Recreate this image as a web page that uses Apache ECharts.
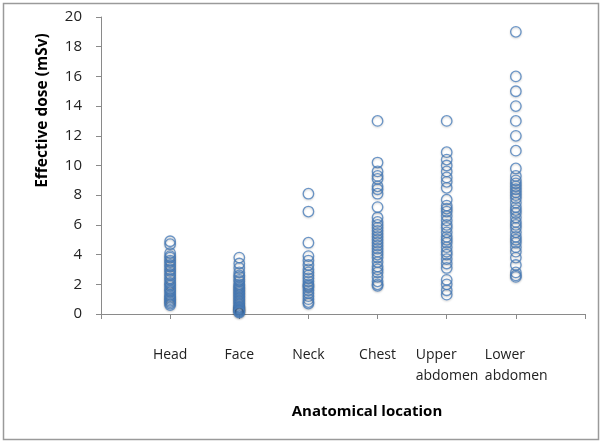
<!DOCTYPE html>
<html>
<head>
<meta charset="utf-8">
<script src="https://cdn.jsdelivr.net/npm/echarts@6/dist/echarts.min.js"></script>
<style>html,body{margin:0;padding:0;background:#fff}#c{width:600px;height:441px}</style>
</head>
<body>
<div id="c"></div>
<script>
var categories = ['Head', 'Face', 'Neck', 'Chest', 'Upper\nabdomen', 'Lower\nabdomen'];
var yTicks = [0, 2, 4, 6, 8, 10, 12, 14, 16, 18, 20];

var headDose = [4.9, 4.7, 4.1, 3.9, 3.8, 3.6, 3.5, 3.3, 3.2, 3.0, 2.9, 2.7, 2.6, 2.4, 2.3, 2.1, 2.0, 1.9, 1.7, 1.6, 1.5, 1.3, 1.2, 1.1, 1.0, 0.9, 0.8, 0.7, 0.6];
var faceDose = [3.8, 3.4, 3.1, 2.8, 2.6, 2.5, 2.3, 2.2, 2.0, 1.9, 1.8, 1.7, 1.6, 1.5, 1.4, 1.3, 1.2, 1.1, 1.0, 0.9, 0.8, 0.7, 0.6, 0.5, 0.45, 0.4, 0.35, 0.3, 0.25, 0.2, 0.15, 0.1];
var neckDose = [8.1, 6.9, 4.8, 3.9, 3.6, 3.3, 3.0, 2.8, 2.6, 2.4, 2.2, 2.0, 1.9, 1.8, 1.6, 1.4, 1.2, 1.0, 0.8, 0.7];
var chestDose = [13.0, 10.2, 9.6, 9.3, 9.1, 8.6, 8.4, 8.1, 7.2, 6.5, 6.2, 6.0, 5.8, 5.6, 5.4, 5.2, 5.0, 4.8, 4.6, 4.4, 4.2, 4.0, 3.8, 3.5, 3.2, 3.0, 2.8, 2.5, 2.2, 2.0, 1.9];
var upperDose = [13.0, 10.9, 10.4, 10.0, 9.6, 9.2, 8.9, 8.5, 7.7, 7.3, 7.1, 6.9, 6.6, 6.3, 6.0, 5.8, 5.5, 5.2, 5.0, 4.8, 4.5, 4.2, 4.0, 3.7, 3.4, 3.1, 2.3, 2.0, 1.6, 1.3];
var lowerDose = [19.0, 16.0, 15.0, 14.0, 13.0, 12.0, 11.0, 9.8, 9.3, 9.0, 8.8, 8.6, 8.4, 8.2, 8.0, 7.8, 7.5, 7.2, 7.0, 6.8, 6.5, 6.2, 6.0, 5.8, 5.5, 5.2, 5.0, 4.8, 4.5, 4.2, 3.8, 3.3, 2.8, 2.6, 2.5];

var groups = [headDose, faceDose, neckDose, chestDose, upperDose, lowerDose];
var points = [];
groups.forEach(function (g, i) {
  g.forEach(function (v) { points.push([i + 1, v]); });
});

var font = 'Open Sans, Noto Sans, sans-serif';
var chart = echarts.init(document.getElementById('c'), null, {renderer: 'canvas'});
chart.setOption({
  animation: false,
  backgroundColor: '#fff',
  grid: {left: 101, right: 15, top: 17, bottom: 127, containLabel: false},
  xAxis: {
    type: 'value', min: 0, max: 7, interval: 1,
    name: 'Anatomical location', nameLocation: 'middle', nameGap: 90,
    nameTextStyle: {fontFamily: font, fontSize: 15, fontWeight: 'bold', color: '#000', padding: [0, 0, 0, 48]},
    axisLine: {show: true, lineStyle: {color: '#8a8a8a', width: 1}},
    axisTick: {show: true, inside: false, length: 5, lineStyle: {color: '#8a8a8a'}},
    splitLine: {show: false},
    axisLabel: {
      fontFamily: font, fontSize: 14, color: '#222', margin: 31, lineHeight: 21,
      verticalAlign: 'top', align: 'center',
      rich: {w: {fontFamily: font, fontSize: 14, color: '#222', lineHeight: 21, width: 62, align: 'left'}},
      formatter: function (v) {
        var s = categories[v - 1] || '';
        if (s.indexOf('\n') >= 0) {
          return s.split('\n').map(function (l) { return '{w|' + l + '}'; }).join('\n');
        }
        return s;
      }
    }
  },
  yAxis: {
    type: 'value', min: 0, max: 20, interval: 2,
    name: 'Effective dose (mSv)', nameLocation: 'middle', nameGap: 50,
    nameTextStyle: {fontFamily: font, fontSize: 15.5, fontWeight: 'bold', color: '#000', padding: [0, 0, 0, 110]},
    axisLine: {show: true, lineStyle: {color: '#8a8a8a', width: 1}},
    axisTick: {show: true, inside: false, length: 5, lineStyle: {color: '#8a8a8a'}},
    splitLine: {show: false},
    axisLabel: {fontFamily: font, fontSize: 15, color: '#222', margin: 19,
      formatter: function (v) { return yTicks.indexOf(v) >= 0 ? String(v) : ''; }}
  },
  series: [{
    type: 'scatter',
    data: points,
    symbol: 'circle',
    symbolSize: 10.5,
    itemStyle: {color: 'rgba(255,255,255,0)', borderColor: '#4a7ebb', borderWidth: 1.3,
      shadowBlur: 2, shadowColor: 'rgba(0,0,0,0.25)', shadowOffsetY: 1}
  }],
  graphic: [{
    type: 'rect', left: 1, top: 1, silent: true,
    shape: {width: 595, height: 436},
    style: {fill: null, stroke: '#9a9a9a', lineWidth: 1.5}
  }]
});
</script>
</body>
</html>
